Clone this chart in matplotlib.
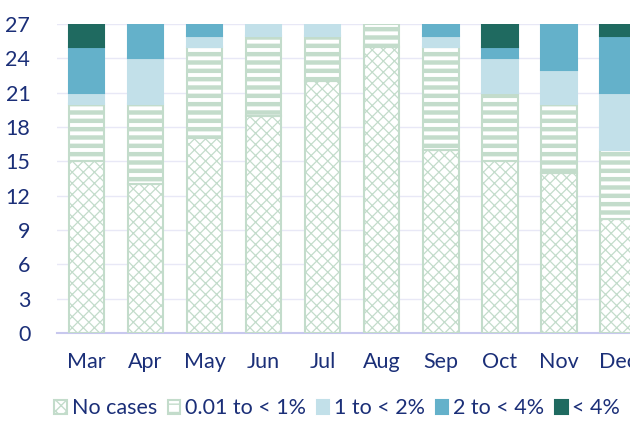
import numpy as np
import matplotlib as mpl
import matplotlib.pyplot as plt

months = ['Mar', 'Apr', 'May', 'Jun', 'Jul', 'Aug', 'Sep', 'Oct', 'Nov', 'Dec']
no_cases = [15, 13, 17, 19, 22, 25, 16, 15, 14, 10]
low = [5, 7, 8, 7, 4, 2, 9, 6, 6, 6]
one_two = [1, 4, 1, 1, 1, 0, 1, 3, 3, 5]
two_four = [4, 3, 1, 0, 0, 0, 1, 1, 4, 5]
over_four = [2, 0, 0, 0, 0, 0, 0, 2, 0, 1]
labels = ['No cases', '0.01 to < 1%', '1 to < 2%', '2 to < 4%', '< 4%']

navy = '#1b2f78'
green = '#c3dccb'
plt.rcParams['font.family'] = ['Lato', 'DejaVu Sans']

fig, ax = plt.subplots(figsize=(6.3, 4.23), dpi=100)
fig.subplots_adjust(left=0.09, right=1.0, top=0.943, bottom=0.213)

x = np.arange(len(months))
w = 0.6
bottom = np.zeros(len(months))

styles = [
    dict(color='white', edgecolor=green, hatch='xxx', hlw=0.9),
    dict(color='white', edgecolor=green, hatch='--', hlw=3.2),
    dict(color='#c2e0e9', edgecolor='#c2e0e9', hatch=None, hlw=1.0),
    dict(color='#64b1ca', edgecolor='#64b1ca', hatch=None, hlw=1.0),
    dict(color='#1f6a60', edgecolor='#1f6a60', hatch=None, hlw=1.0),
]
handles = []
for vals, st, lab in zip([no_cases, low, one_two, two_four, over_four], styles, labels):
    vals = np.array(vals, dtype=float)
    with mpl.rc_context({'hatch.linewidth': st['hlw']}):
        bars = ax.bar(x, vals, w, bottom=bottom, color=st['color'],
                      edgecolor=st['edgecolor'], hatch=st['hatch'],
                      linewidth=1.5, label=lab, zorder=3)
    for b, v in zip(bars, vals):
        if hasattr(b, 'set_hatch_linewidth'):
            b.set_hatch_linewidth(st['hlw'])
        # empty segments should not leave an edge line behind
        if v == 0:
            b.set_visible(False)
    handles.append(bars)
    bottom += vals

ax.set_xlim(-0.5, 9.2)
ax.set_ylim(0, 27)
ax.set_yticks(np.arange(0, 28, 3))
ax.set_xticks(x)
ax.set_xticklabels(months)
ax.tick_params(colors=navy, labelsize=15.5, length=0)
ax.tick_params(axis='x', pad=14)
ax.tick_params(axis='y', pad=19)
ax.grid(axis='y', color='#e8e8f6', linewidth=1, zorder=0)
for side in ['top', 'right', 'left']:
    ax.spines[side].set_visible(False)
ax.spines['bottom'].set_color('#c8c8ee')
ax.spines['bottom'].set_linewidth(1.5)

fig.legend(handles=handles, labels=labels, loc='lower center',
           bbox_to_anchor=(0.535, -0.035), ncol=5, frameon=False,
           fontsize=15.5, labelcolor=navy, handlelength=0.6, handleheight=0.6,
           handletextpad=0.2, columnspacing=0.5)

fig.savefig('out.png', dpi=100)
